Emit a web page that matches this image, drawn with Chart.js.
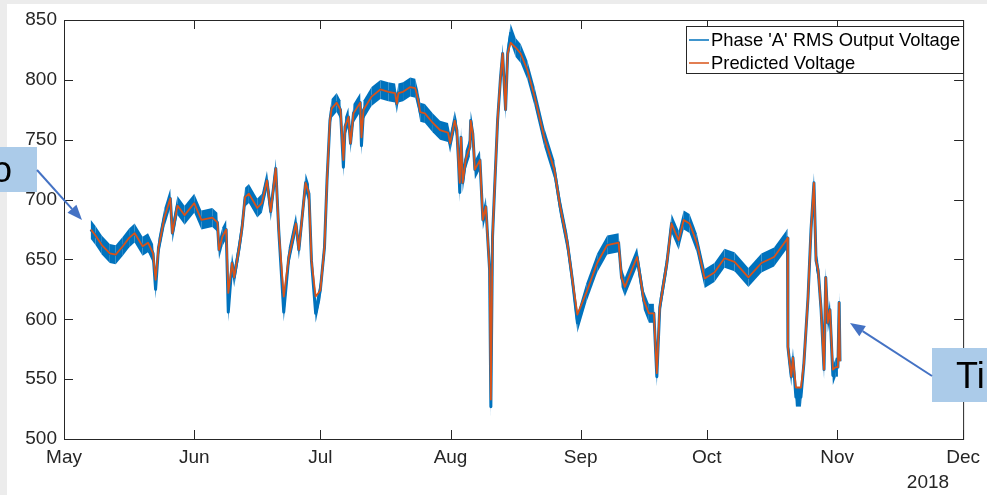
<!DOCTYPE html>
<html>
<head>
<meta charset="utf-8">
<script src="https://cdn.jsdelivr.net/npm/chart.js@4.4.1/dist/chart.umd.min.js"></script>
<style>
  html, body { margin: 0; padding: 0; background: #fff; }
  #c { display: block; }
</style>
</head>
<body>
<canvas id="c" width="987" height="495" style="width:987px;height:495px"></canvas>
<script>
// x values are days counted from 1 May 2018
const monthDays = [0, 31, 61, 92, 123, 153, 184, 214];
const monthLabels = ['May', 'Jun', 'Jul', 'Aug', 'Sep', 'Oct', 'Nov', 'Dec'];
const yearLabel = '2018';
const yTicks = [500, 550, 600, 650, 700, 750, 800, 850];
const seriesNames = ["Phase 'A' RMS Output Voltage", 'Predicted Voltage'];
const noteTexts = ['o', 'Ti'];

const days = [
  6.4, 7.5, 9.0, 10.9, 12.3, 14.0, 15.5, 16.8, 18.7, 20.0,
  21.2, 21.8, 22.5, 23.9, 25.3, 25.8, 27.0, 28.7, 31.0, 32.7,
  35.3, 36.5, 36.9, 37.7, 38.6, 39.1, 40.0, 40.5, 41.7, 42.4,
  43.1, 44.0, 46.0, 47.1, 48.3, 49.2, 50.4, 51.1, 52.3, 53.5,
  55.2, 55.9, 57.5, 58.3, 58.9, 59.9, 61.0, 62.0, 62.6, 63.3,
  63.7, 64.9, 65.8, 66.5, 66.9, 67.7, 68.2, 68.9, 70.5, 70.8,
  71.3, 73.2, 75.3, 77.2, 78.8, 79.2, 79.6, 80.7, 82.4, 83.6,
  84.3, 84.8, 85.9, 87.8, 89.5, 91.4, 91.9, 93.0, 93.5, 93.9,
  94.2, 94.5, 94.9, 95.6, 96.6, 96.8, 97.3, 97.8, 99.0, 99.7,
  100.4, 101.3, 101.6, 102.0, 102.5, 103.2, 103.9, 104.4, 105.1, 105.6,
  106.3, 107.5, 108.7, 110.3, 112.0, 114.3, 116.7, 118.1, 119.8, 121.0,
  122.2, 124.3, 126.9, 129.3, 132.0, 132.7, 133.5, 136.4, 138.0, 139.2,
  140.4, 141.1, 141.8, 143.5, 144.6, 146.3, 147.5, 148.9, 150.6, 152.5,
  154.8, 157.2, 159.6, 162.9, 166.0, 169.0, 171.9, 172.2, 172.3, 173.1,
  173.5, 174.2, 175.4, 176.1, 177.1, 177.8, 178.5, 179.0, 179.5, 180.2,
  180.9, 181.3, 181.8, 182.3, 183.0, 183.7, 184.2, 184.5, 184.7
];

const predicted = [
  675, 670, 662, 655, 654, 661, 668, 672, 661, 664,
  655, 633, 660, 685, 701, 672, 695, 687, 697, 683,
  685, 681, 658, 669, 675, 622, 647, 635, 660, 677,
  702, 705, 693, 697, 716, 690, 726, 675, 619, 652,
  680, 658, 714, 705, 649, 619, 624, 660, 716, 766,
  776, 781, 775, 733, 761, 769, 747, 772, 781, 752,
  775, 786, 792, 790, 789, 780, 789, 790, 794, 793,
  783, 773, 772, 764, 758, 756, 747, 766, 758, 731,
  714, 752, 714, 733, 744, 766, 755, 725, 733, 683,
  694, 641, 533, 669, 710, 766, 802, 822, 775, 822,
  831, 827, 822, 808, 786, 752, 725, 694, 664, 633,
  604, 622, 647, 662, 664, 635, 627, 652, 616, 605,
  605, 555, 610, 647, 680, 666, 683, 680, 664, 634,
  639, 651, 648, 635, 647, 652, 666, 668, 577, 552,
  568, 543, 543, 563, 619, 675, 714, 649, 641, 608,
  558, 635, 597, 608, 558, 560, 560, 614, 565
];

const measured = [
  675, 670, 662, 655, 654, 661, 668, 672, 661, 664,
  655, 625, 660, 685, 701, 672, 695, 687, 697, 683,
  685, 681, 658, 669, 675, 606, 647, 635, 660, 677,
  702, 705, 693, 697, 716, 690, 726, 675, 606, 652,
  680, 658, 714, 705, 649, 605, 624, 660, 716, 766,
  776, 781, 775, 727, 761, 769, 747, 772, 781, 745,
  775, 786, 792, 790, 789, 780, 789, 790, 794, 793,
  783, 773, 772, 764, 758, 756, 747, 766, 758, 731,
  706, 752, 714, 733, 744, 766, 755, 725, 733, 683,
  694, 641, 527, 669, 710, 766, 802, 822, 775, 822,
  839, 827, 822, 808, 786, 752, 725, 694, 664, 633,
  597, 622, 647, 662, 664, 635, 627, 652, 616, 605,
  605, 552, 610, 647, 680, 666, 683, 680, 664, 634,
  639, 651, 648, 635, 647, 652, 666, 668, 577, 552,
  568, 535, 535, 563, 619, 675, 714, 649, 641, 608,
  558, 635, 597, 608, 553, 560, 560, 614, 565
];

const ink = '#262626';
const fam = "'Liberation Sans', Arial, Helvetica, sans-serif";
const blue = '#0072BD', orange = '#D95319';

function pts(arr) { return days.map((d, i) => ({ x: d, y: arr[i] })); }

function arrow(c, x0, y0, x1, y1) {
  const a = Math.atan2(y1 - y0, x1 - x0), L = 15, W = 6;
  const bx = x1 - L * Math.cos(a), by = y1 - L * Math.sin(a);
  c.strokeStyle = '#4472c4'; c.fillStyle = '#4472c4'; c.lineWidth = 2;
  c.beginPath(); c.moveTo(x0, y0); c.lineTo(bx, by); c.stroke();
  c.beginPath();
  c.moveTo(x1, y1);
  c.lineTo(bx + W * Math.sin(a), by - W * Math.cos(a));
  c.lineTo(bx - W * Math.sin(a), by + W * Math.cos(a));
  c.closePath(); c.fill();
}

// measured signal is noisy: shade a band of constant vertical height around it
const noiseBand = {
  id: 'noiseBand',
  beforeDatasetsDraw(chart) {
    const c = chart.ctx, a = chart.chartArea;
    const p = chart.getDatasetMeta(0).data, h = 9.5;
    c.save();
    c.beginPath(); c.rect(a.left, a.top, a.right - a.left, a.bottom - a.top); c.clip();
    c.fillStyle = blue;
    for (let i = 0; i < p.length - 1; i++) {
      const p0 = p[i], p1 = p[i + 1];
      c.beginPath();
      c.moveTo(p0.x, p0.y - h); c.lineTo(p1.x, p1.y - h);
      c.lineTo(p1.x, p1.y + h); c.lineTo(p0.x, p0.y + h);
      c.closePath(); c.fill();
    }
    c.restore();
  }
};

const frame = {
  id: 'frame',
  beforeDraw(chart) {
    const c = chart.ctx;
    c.save();
    c.fillStyle = '#ececec';
    c.fillRect(0, 0, chart.width, chart.height);
    c.fillStyle = '#ffffff';
    c.fillRect(7, 4, chart.width - 7, chart.height - 4);
    c.restore();
  },
  afterDraw(chart) {
    const c = chart.ctx, a = chart.chartArea;
    const xs = chart.scales.x, ys = chart.scales.y;
    c.save();
    c.strokeStyle = ink; c.lineWidth = 1;
    c.strokeRect(a.left + 0.5, a.top + 0.5, a.right - a.left, a.bottom - a.top);
    c.beginPath();
    monthDays.forEach(v => {
      const px = Math.round(xs.getPixelForValue(v)) + 0.5;
      c.moveTo(px, a.bottom); c.lineTo(px, a.bottom - 9);
      c.moveTo(px, a.top); c.lineTo(px, a.top + 9);
    });
    yTicks.forEach(v => {
      const py = Math.round(ys.getPixelForValue(v)) + 0.5;
      c.moveTo(a.left, py); c.lineTo(a.left + 9, py);
      c.moveTo(a.right, py); c.lineTo(a.right - 9, py);
    });
    c.stroke();

    // year under the last month tick
    c.fillStyle = ink;
    c.font = '19px ' + fam;
    c.textAlign = 'center'; c.textBaseline = 'middle';
    c.fillText(yearLabel, 928, 483);

    // legend
    const lx = 686, ly = 26, lw = 277, lh = 47;
    c.fillStyle = '#fff';
    c.fillRect(lx, ly, lw, lh);
    c.strokeStyle = ink;
    c.strokeRect(lx + 0.5, ly + 0.5, lw, lh);
    c.font = '18.4px ' + fam;
    c.textAlign = 'left';
    chart.data.datasets.forEach((ds, i) => {
      const yy = 40 + i * 23;
      c.strokeStyle = ds.borderColor; c.lineWidth = 1.5;
      c.beginPath(); c.moveTo(lx + 3, yy); c.lineTo(lx + 23, yy); c.stroke();
      c.fillStyle = '#000';
      c.fillText(ds.label, lx + 25, yy + 1);
    });

    // callouts
    c.fillStyle = '#abcbe9';
    c.fillRect(0, 147, 37, 45);
    c.fillRect(932, 348, 55, 54);
    c.fillStyle = '#000';
    c.font = '36px ' + fam;
    c.textBaseline = 'alphabetic';
    c.fillText(noteTexts[0], -8, 182);
    c.fillText(noteTexts[1], 956, 388);
    arrow(c, 37, 170, 82, 220);
    arrow(c, 932, 376, 850, 323);
    c.restore();
  }
};

new Chart(document.getElementById('c'), {
  type: 'line',
  data: {
    datasets: [
      {
        label: seriesNames[0], data: pts(measured), order: 2,
        borderColor: blue, borderWidth: 3, pointRadius: 0, tension: 0,
        borderJoinStyle: 'round'
      },
      {
        label: seriesNames[1], data: pts(predicted), order: 1,
        borderColor: orange, borderWidth: 1.8, pointRadius: 0, tension: 0,
        borderJoinStyle: 'round'
      }
    ]
  },
  options: {
    responsive: false,
    animation: false,
    events: [],
    layout: { padding: { left: 0, top: 20, right: 19, bottom: 0 } },
    plugins: { legend: { display: false }, tooltip: { enabled: false } },
    scales: {
      x: {
        type: 'linear', min: monthDays[0], max: monthDays[monthDays.length - 1],
        afterBuildTicks: s => { s.ticks = monthDays.map(v => ({ value: v })); },
        ticks: {
          autoSkip: false, maxRotation: 0, padding: 7, color: ink,
          font: { family: fam, size: 19 },
          callback: v => monthLabels[monthDays.indexOf(v)]
        },
        grid: { display: false, drawTicks: false },
        border: { display: false },
        afterFit: s => { s.height = 56; }
      },
      y: {
        min: yTicks[0], max: yTicks[yTicks.length - 1],
        afterBuildTicks: s => { s.ticks = yTicks.map(v => ({ value: v })); },
        ticks: { padding: 7, color: ink, font: { family: fam, size: 19 } },
        grid: { display: false, drawTicks: false },
        border: { display: false },
        afterFit: s => { s.width = 64; }
      }
    }
  },
  plugins: [noiseBand, frame]
});
</script>
</body>
</html>
